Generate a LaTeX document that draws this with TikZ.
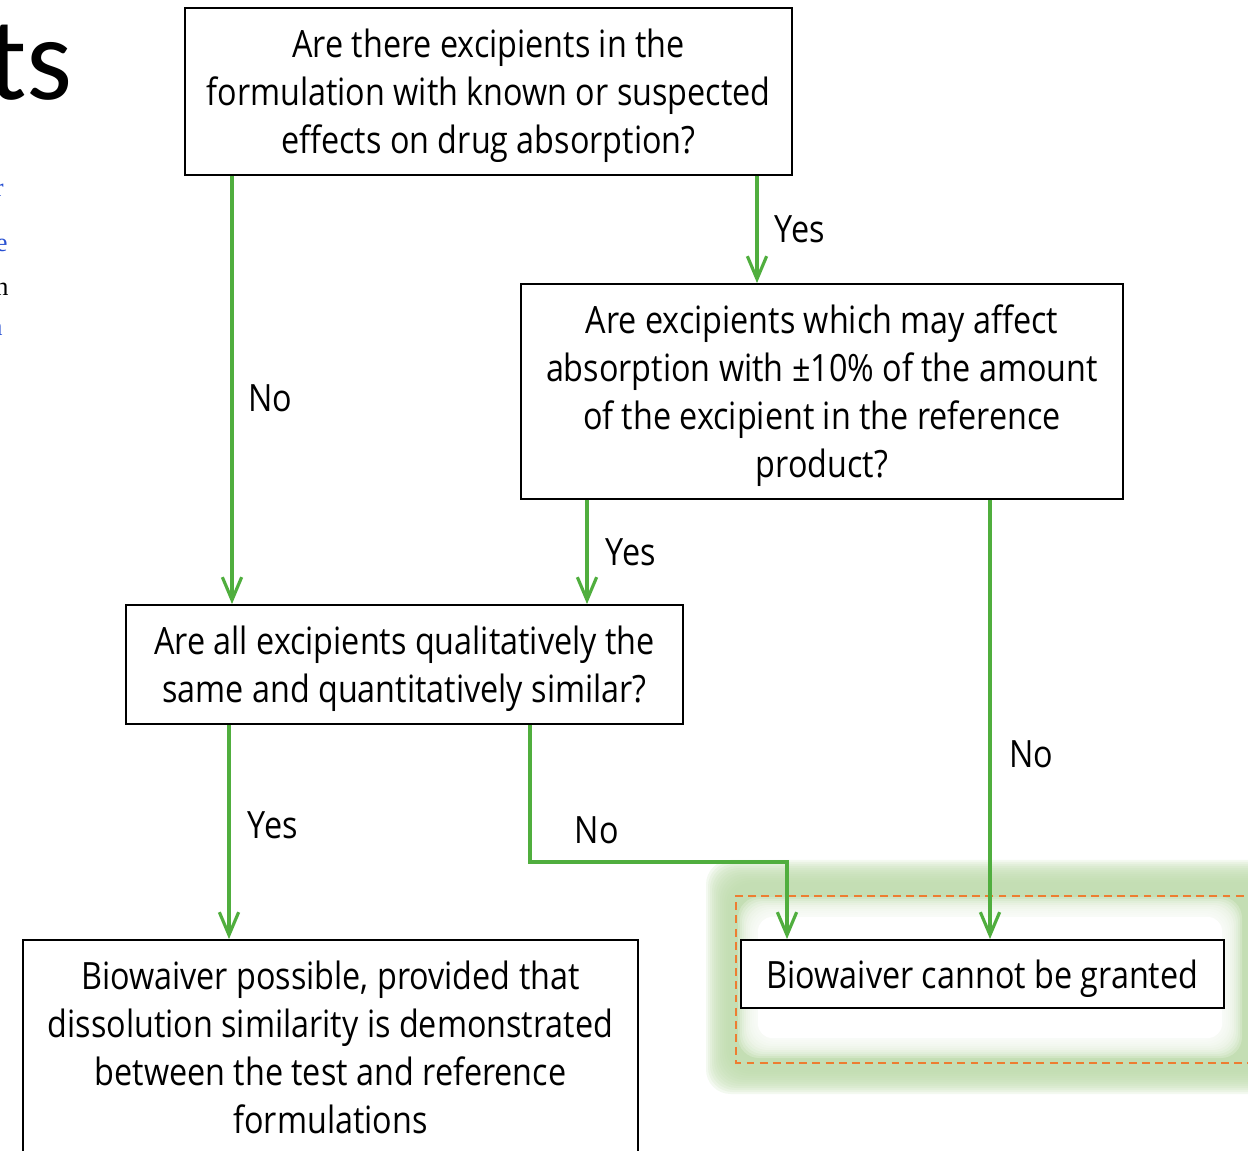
\documentclass[tikz,border=0pt]{standalone}
\usepackage{fontspec}
\setmainfont{Open Sans}[FakeStretch=0.86]
\newfontfamily\titlefont{Carlito}
\newfontfamily\fragfont{Liberation Serif}
\usetikzlibrary{arrows.meta}

\definecolor{flowgreen}{RGB}{80,174,62}
\definecolor{glowgreen}{RGB}{190,219,172}
\definecolor{dashorange}{RGB}{237,125,49}
\definecolor{linkblue}{RGB}{40,80,210}

\tikzset{%
          every question/.style={
            draw,
            fill=white,
            line width=1.1pt,
            align=center,
            inner sep=0pt,
            text depth=0pt,
            font=\fontsize{21.4}{27.3}\selectfont
          },
          answer label/.style={
            inner sep=0pt,
            font=\fontsize{21.4}{27.3}\selectfont
          },
          flow arrow/.style={
            draw=flowgreen,
            line width=1.8pt,
            -{Straight Barb[length=13pt,width=11pt]}
          },
        }

\begin{document}
\begin{tikzpicture}[x=0.02cm, y=-0.02cm]
        \useasboundingbox (0,0) rectangle (1248,1151);
        \clip (0,0) rectangle (1248,1151);

        \node [anchor=base east, inner sep=0pt, font=\titlefont\fontsize{67}{67}\selectfont] (title) at (73,100) {ts};
        \node [anchor=base east, inner sep=0pt, text=linkblue, font=\fragfont\fontsize{15}{15}\selectfont] (frag-1) at (4,197) {r};
        \node [anchor=base east, inner sep=0pt, text=linkblue, font=\fragfont\fontsize{15}{15}\selectfont] (frag-2) at (8,252) {e};
        \node [anchor=base east, inner sep=0pt, font=\fragfont\fontsize{15}{15}\selectfont] (frag-3) at (9,296) {n};
        \node [anchor=base east, inner sep=0pt, text=linkblue, font=\fragfont\fontsize{15}{15}\selectfont] (frag-4) at (3,336) {a};

        \foreach \k in {0,...,11}
          \fill [glowgreen, opacity=0.18, rounded corners=14] (706+2*\k,860+2*\k) rectangle (1280,1094-2*\k);
        \foreach \k in {0,...,9}
          \fill [white, opacity=0.22, rounded corners=12] (738+2*\k,897+2*\k) rectangle (1242-2*\k,1058-2*\k);
        \fill [white, rounded corners=8] (758,917) rectangle (1222,1038);
        \draw [dashorange, line width=0.8pt, dash pattern=on 4.5pt off 3pt] (1270,896) -- (736,896) -- (736,1063) -- (1270,1063);

        \node [every question, minimum width=12.14cm, minimum height=3.34cm] (q-excipients) at (488.5,91.5) {Are there excipients in the\\formulation with known or suspected\\effects on drug absorption?};
        \node [every question, minimum width=12.04cm, minimum height=4.3cm] (q-amount) at (822,391.5) {Are excipients which may affect\\absorption with ±10\% of the amount\\of the excipient in the reference\\product?};
        \node [every question, minimum width=11.14cm, minimum height=2.38cm] (q-same) at (404.5,664.5) {Are all excipients qualitatively the\\same and quantitatively similar?};
        \node [every question, minimum width=12.3cm, minimum height=4.28cm] (r-possible) at (330.5,1047) {Biowaiver possible, provided that\\dissolution similarity is demonstrated\\between the test and reference\\formulations};
        \node [every question, minimum width=9.66cm, minimum height=1.36cm] (r-refused) at (982.5,974) {Biowaiver cannot be granted};

        \path [flow arrow] (q-excipients.south -| 757,0) -- node[answer label, right=0.32cm] {Yes} (q-amount.north -| 757,0);
        \path [flow arrow] (q-excipients.south -| 232,0) -- node[answer label, right=0.3cm, pos=0.52] {No} (q-same.north -| 232,0);
        \path [flow arrow] (q-amount.south -| 587,0) -- node[answer label, right=0.34cm] {Yes} (q-same.north -| 587,0);
        \path [flow arrow] (q-amount.south -| 990,0) -- node[answer label, right=0.36cm, pos=0.58] {No} (r-refused.north -| 990,0);
        \path [flow arrow] (q-same.south -| 229,0) -- node[answer label, right=0.34cm, pos=0.47] {Yes} (r-possible.north -| 229,0);
        \path [flow arrow] (q-same.south -| 530,0) -- (530,862) -| node[answer label, above=0.34cm, pos=0.13] {No} (r-refused.north -| 787,0);

        \end{tikzpicture}
\end{document}
